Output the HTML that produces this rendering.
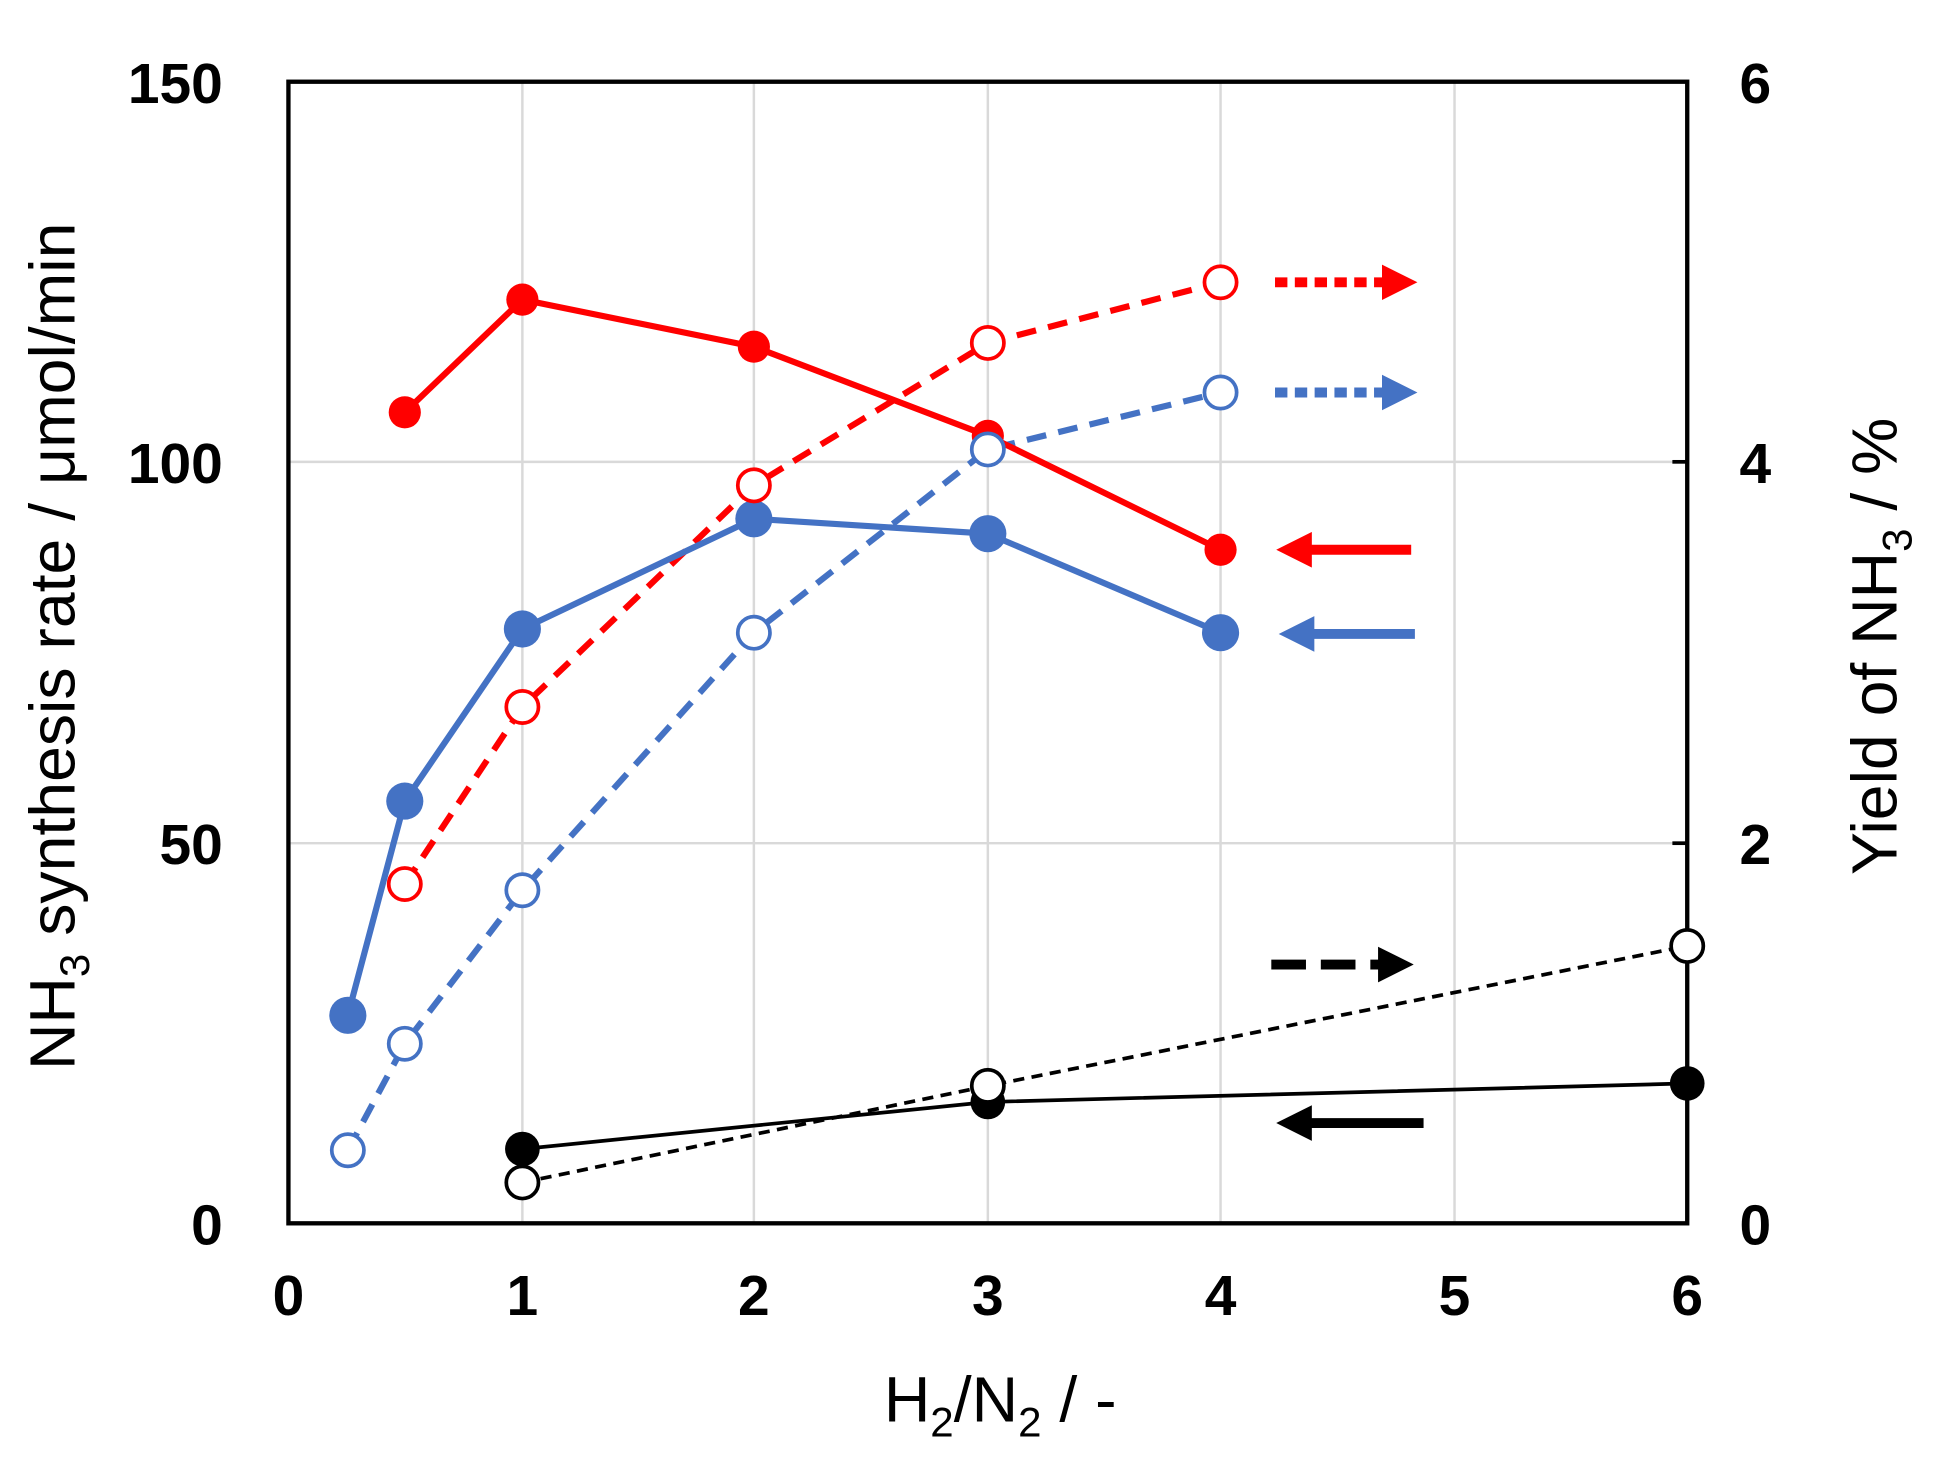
<!DOCTYPE html>
<html><head><meta charset="utf-8"><style>html,body{margin:0;padding:0;background:#fff}svg{display:block}</style></head><body>
<svg width="1941" height="1466" viewBox="0 0 1568 1184" preserveAspectRatio="none" xmlns="http://www.w3.org/2000/svg" font-family="Liberation Sans, Arial, sans-serif">
<defs>
<marker id="ar" viewBox="0 0 10 10" refX="2" refY="5" markerWidth="3.6" markerHeight="3.6" orient="auto"><path d="M0,0L10,5L0,10z" fill="#ff0000"/></marker>
<marker id="ab" viewBox="0 0 10 10" refX="2" refY="5" markerWidth="3.6" markerHeight="3.6" orient="auto"><path d="M0,0L10,5L0,10z" fill="#4472c4"/></marker>
<marker id="ak" viewBox="0 0 10 10" refX="2" refY="5" markerWidth="3.6" markerHeight="3.6" orient="auto"><path d="M0,0L10,5L0,10z" fill="#000"/></marker>
</defs>
<g stroke="#d9d9d9" stroke-width="2">
<line x1="422" y1="66" x2="422" y2="988"/><line x1="609" y1="66" x2="609" y2="988"/><line x1="798" y1="66" x2="798" y2="988"/><line x1="986" y1="66" x2="986" y2="988"/><line x1="1175" y1="66" x2="1175" y2="988"/>
<line x1="233" y1="373" x2="1363" y2="373"/><line x1="233" y1="681" x2="1363" y2="681"/>
</g>
<rect x="233" y="66" width="1130" height="922" fill="none" stroke="#000" stroke-width="3.5"/>
<g stroke="#000" stroke-width="3"><line x1="1363" y1="373" x2="1351" y2="373"/><line x1="1363" y1="681" x2="1351" y2="681"/></g>
<g font-weight="bold" font-size="46" text-anchor="end">
<text x="180" y="83">150</text><text x="180" y="390">100</text><text x="180" y="698">50</text><text x="180" y="1005">0</text></g>
<g font-weight="bold" font-size="46" text-anchor="middle">
<text x="1418" y="83">6</text><text x="1418" y="390">4</text><text x="1418" y="698">2</text><text x="1418" y="1005">0</text>
<text x="233" y="1062">0</text><text x="422" y="1062">1</text><text x="609" y="1062">2</text><text x="798" y="1062">3</text><text x="986" y="1062">4</text><text x="1175" y="1062">5</text><text x="1363" y="1062">6</text></g>
<text x="808" y="1148" font-size="52" text-anchor="middle">H<tspan font-size="34" dy="12">2</tspan><tspan dy="-12">/N</tspan><tspan font-size="34" dy="12">2</tspan><tspan dy="-12"> / -</tspan></text>
<text transform="translate(60,522) rotate(-90)" font-size="52" text-anchor="middle">NH<tspan font-size="34" dy="12">3</tspan><tspan dy="-12"> synthesis rate / μmol/min</tspan></text>
<text transform="translate(1532,522) rotate(-90)" font-size="52" text-anchor="middle">Yield of NH<tspan font-size="34" dy="12">3</tspan><tspan dy="-12"> / %</tspan></text>
<g fill="none" stroke-width="5">
<polyline stroke="#ff0000" stroke-dasharray="16,10" points="327,714 422,571 609,392 798,277 986,228"/>
<polyline stroke="#4472c4" stroke-dasharray="16,10" points="281,929 327,843 422,719 609,511 798,363 986,317"/>
<polyline stroke="#ff0000" points="327,333 422,242 609,280 798,352 986,444"/>
<polyline stroke="#4472c4" points="281,820 327,647 422,508 609,419 798,431 986,511"/>
<polyline stroke="#000" stroke-width="3" points="422,928 798,890 1363,875"/>
<polyline stroke="#000" stroke-width="3" stroke-dasharray="9,6" points="422,955 798,877 1363,764"/>
</g>
<g fill="#ff0000"><circle cx="327" cy="333" r="13"/><circle cx="422" cy="242" r="13"/><circle cx="609" cy="280" r="13"/><circle cx="798" cy="352" r="13"/><circle cx="986" cy="444" r="13"/></g>
<g fill="#4472c4"><circle cx="281" cy="820" r="15"/><circle cx="327" cy="647" r="15"/><circle cx="422" cy="508" r="15"/><circle cx="609" cy="419" r="15"/><circle cx="798" cy="431" r="15"/><circle cx="986" cy="511" r="15"/></g>
<g fill="#000"><circle cx="422" cy="928" r="14"/><circle cx="798" cy="890" r="14"/><circle cx="1363" cy="875" r="14"/></g>
<g fill="#fff" stroke-width="3">
<g stroke="#ff0000"><circle cx="327" cy="714" r="13"/><circle cx="422" cy="571" r="13"/><circle cx="609" cy="392" r="13"/><circle cx="798" cy="277" r="13"/><circle cx="986" cy="228" r="13"/></g>
<g stroke="#4472c4"><circle cx="281" cy="929" r="13"/><circle cx="327" cy="843" r="13"/><circle cx="422" cy="719" r="13"/><circle cx="609" cy="511" r="13"/><circle cx="798" cy="363" r="13"/><circle cx="986" cy="317" r="13"/></g>
<g stroke="#000"><circle cx="422" cy="955" r="13"/><circle cx="798" cy="877" r="13"/><circle cx="1363" cy="764" r="13"/></g>
</g>
<g stroke-width="8" fill="none">
<line x1="1030" y1="228" x2="1122" y2="228" stroke="#ff0000" stroke-dasharray="10,6" marker-end="url(#ar)"/>
<line x1="1030" y1="317" x2="1122" y2="317" stroke="#4472c4" stroke-dasharray="10,6" marker-end="url(#ab)"/>
<line x1="1140" y1="444" x2="1054" y2="444" stroke="#ff0000" marker-end="url(#ar)"/>
<line x1="1143" y1="512" x2="1056" y2="512" stroke="#4472c4" marker-end="url(#ab)"/>
<line x1="1027" y1="779" x2="1119" y2="779" stroke="#000" stroke-dasharray="28,12" marker-end="url(#ak)"/>
<line x1="1150" y1="907" x2="1054" y2="907" stroke="#000" marker-end="url(#ak)"/>
</g>
</svg>
</body></html>
